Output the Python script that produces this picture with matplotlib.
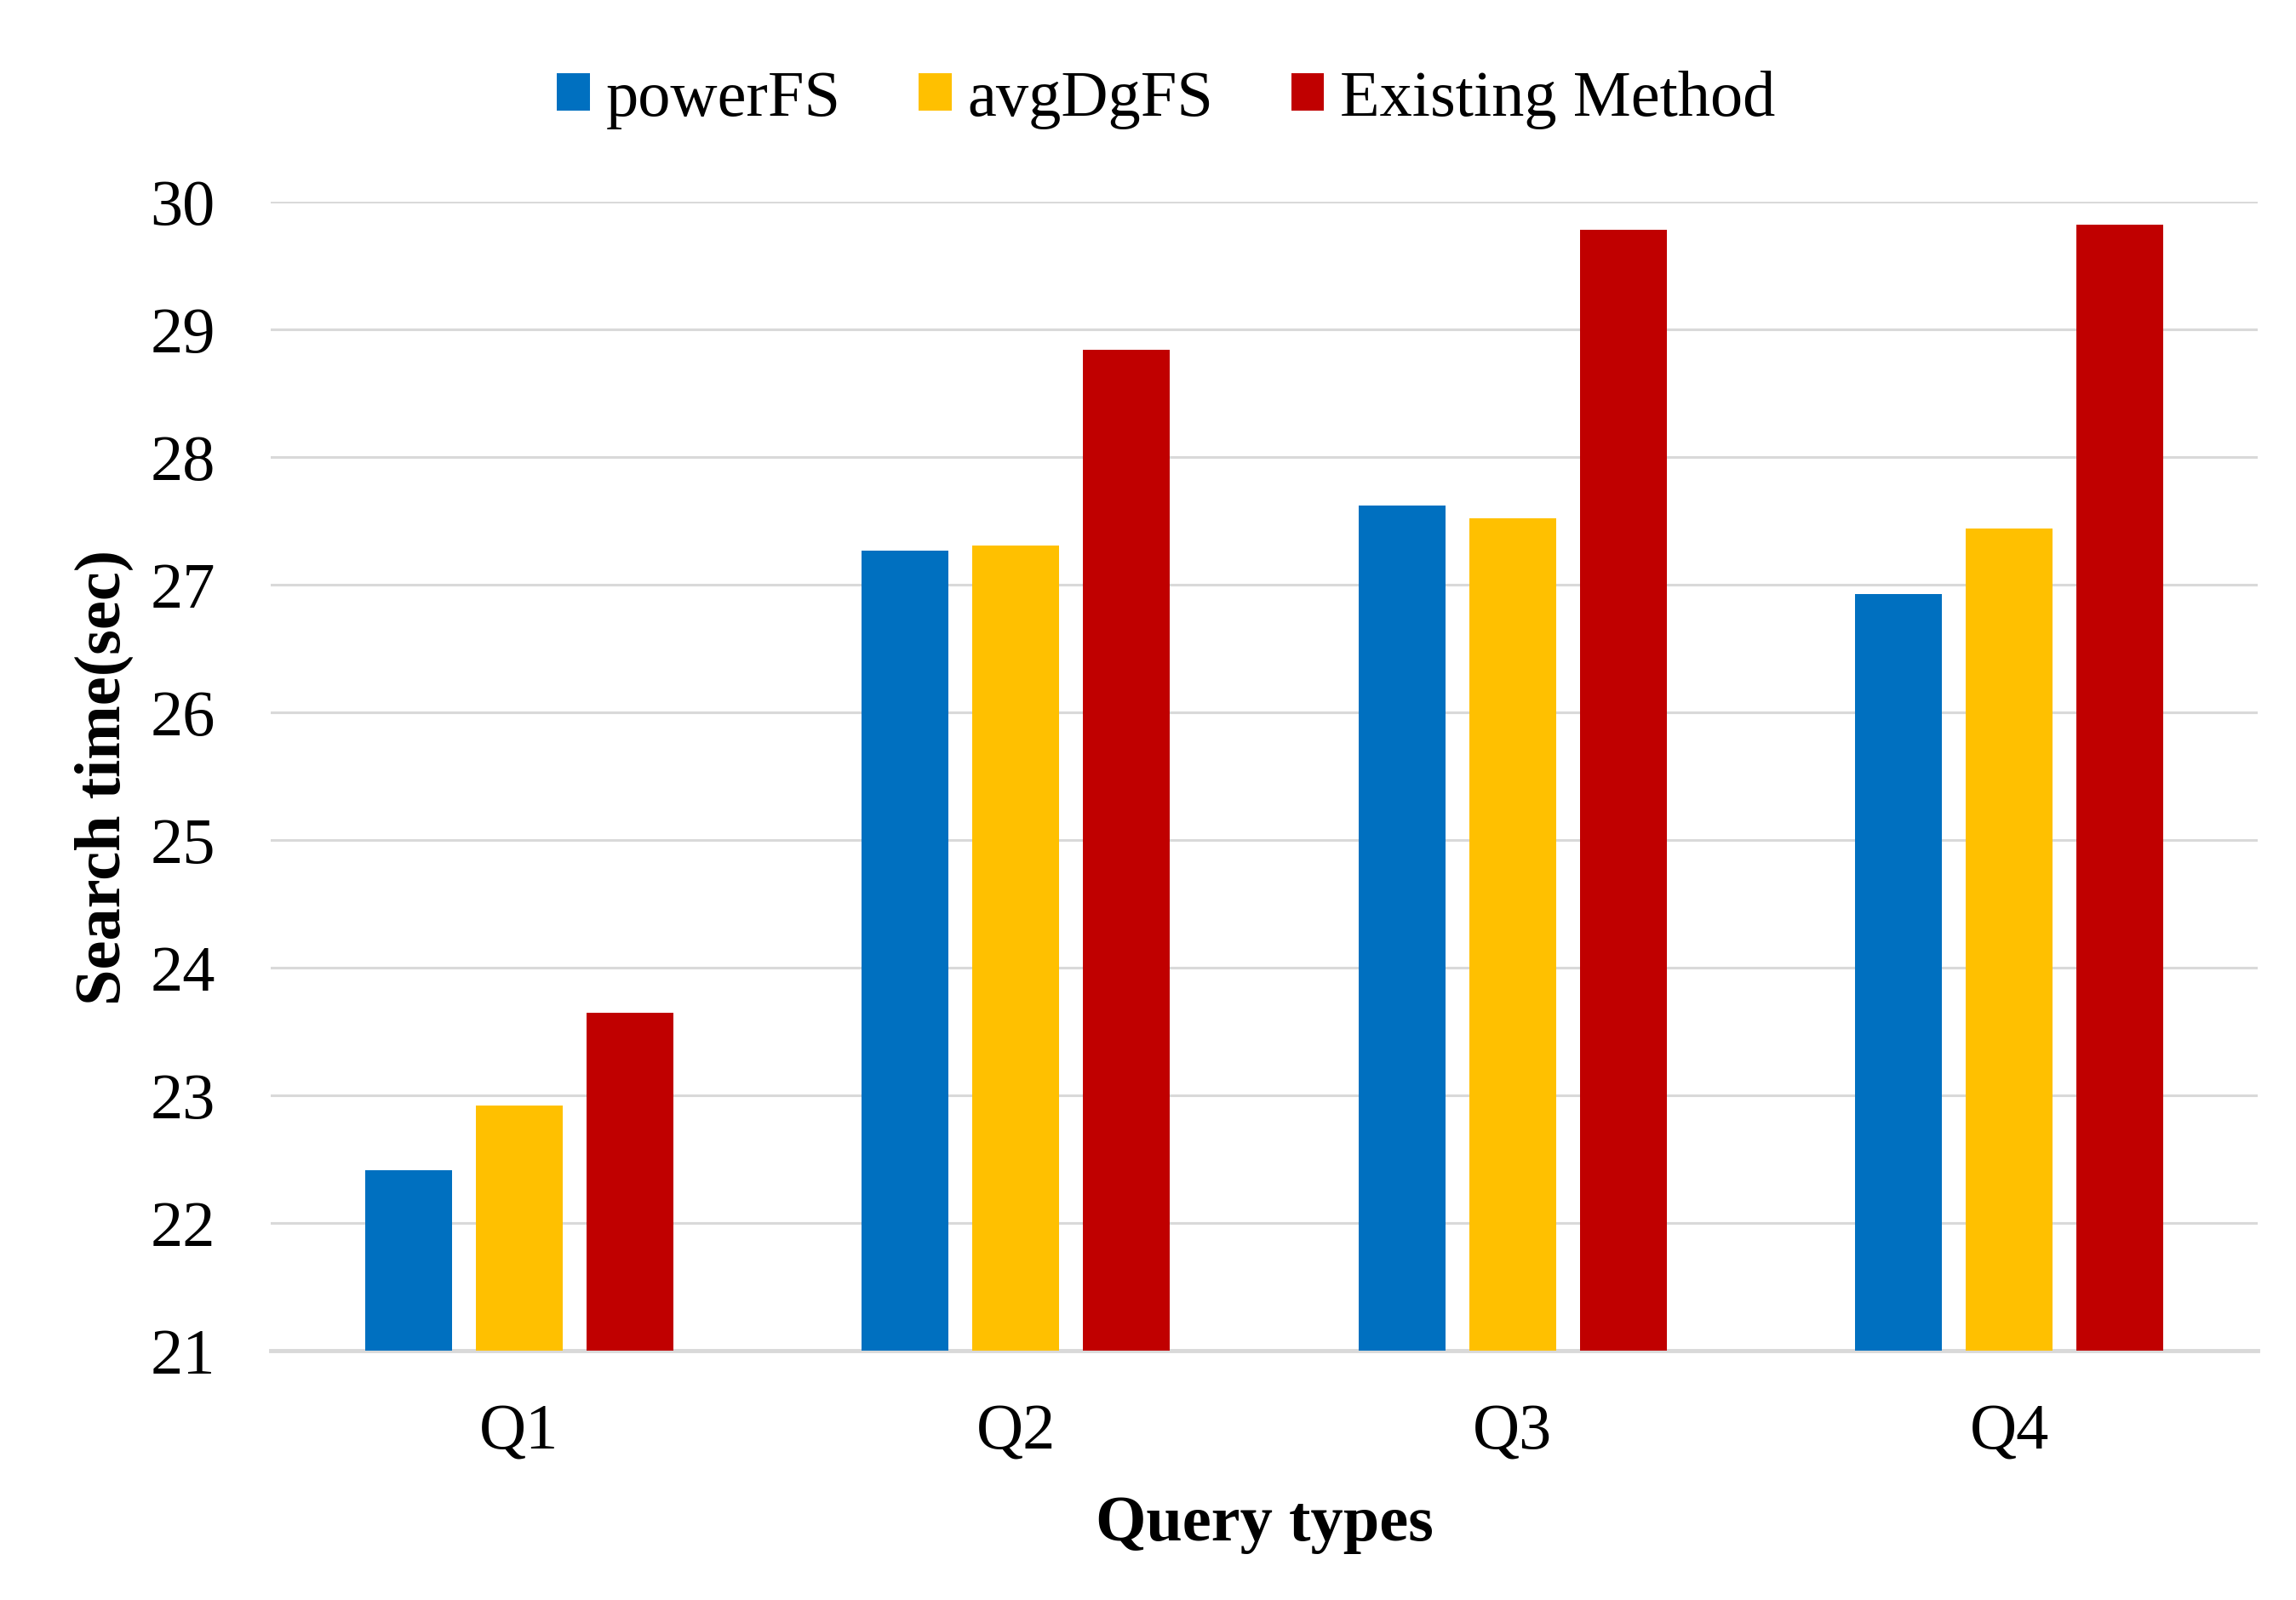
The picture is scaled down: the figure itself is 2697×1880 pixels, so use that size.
import matplotlib.pyplot as plt
import numpy as np

categories = ['Q1', 'Q2', 'Q3', 'Q4']
series_names = ['powerFS', 'avgDgFS', 'Existing Method']
power_fs = [22.41, 27.27, 27.62, 26.93]
avg_dg_fs = [22.92, 27.31, 27.52, 27.44]
existing = [23.65, 28.84, 29.78, 29.82]
y_ticks = [21, 22, 23, 24, 25, 26, 27, 28, 29, 30]

colors = ['#0070C0', '#FFC000', '#C00000']

plt.rcParams['font.family'] = ['Liberation Serif', 'DejaVu Serif']

fig = plt.figure(figsize=(26.97, 18.81), dpi=100)
ax = fig.add_axes([318 / 2697, 1 - 1588 / 1881, (2652 - 318) / 2697, (1588 - 238) / 1881])

x = np.arange(len(categories))
width = 0.175
pitch = 0.223
handles = []
for i, (vals, name) in enumerate(zip([power_fs, avg_dg_fs, existing], series_names)):
    b = ax.bar(x + (i - 1) * pitch, vals, width, bottom=0, color=colors[i], label=name, zorder=3)
    handles.append(b)

ax.set_xlim(-0.5, 3.5)
ax.set_ylim(21, 30)
ax.set_yticks(y_ticks)
ax.set_xticks(x)
ax.set_xticklabels(categories)
ax.tick_params(axis='both', length=0, labelsize=55)
ax.tick_params(axis='y', pad=47)
ax.tick_params(axis='x', pad=44)

ax.grid(axis='y', color='#d9d9d9', linewidth=2.2, zorder=0)
ax.set_axisbelow(True)
for s in ['top', 'right', 'left']:
    ax.spines[s].set_visible(False)
ax.spines['bottom'].set_color('#d9d9d9')
ax.spines['bottom'].set_linewidth(3.5)

ax.set_ylabel('Search time(sec)', fontsize=55, fontweight='bold', labelpad=14)
ax.set_xlabel('Query types', fontsize=55, fontweight='bold', labelpad=28)

fig.legend(handles=handles, labels=series_names, loc='center', bbox_to_anchor=(0.508, 0.9376),
           ncol=3, frameon=False, fontsize=55, handlelength=0.5, handleheight=0.5,
           handletextpad=0.25, columnspacing=1.2)

fig.savefig('out.png', dpi=100, facecolor='white')
